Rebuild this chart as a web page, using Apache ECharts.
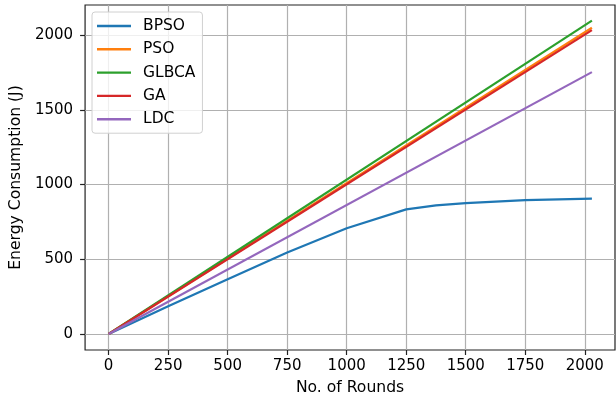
<!DOCTYPE html>
<html>
<head>
<meta charset="utf-8">
<script src="https://cdn.jsdelivr.net/npm/echarts@6/dist/echarts.min.js"></script>
<style>html,body{margin:0;padding:0;background:#fff;}#c{width:616px;height:401px;}</style>
</head>
<body>
<div id="c"></div>
<script>
const seriesNames = ['BPSO', 'PSO', 'GLBCA', 'GA', 'LDC'];
const colors = ['#1f77b4', '#ff7f0e', '#2ca02c', '#d62728', '#9467bd'];
const bpsoRounds = [0, 250, 500, 750, 1000, 1250, 1375, 1500, 1750, 2030];
const bpsoValues = [0, 185, 367, 545, 707, 834, 860, 876, 896, 906];
const lineRounds = [0, 2030];
const psoValues = [0, 2049];
const glbcaValues = [0, 2096];
const gaValues = [0, 2033];
const ldcValues = [0, 1752];
const xTicks = [0, 250, 500, 750, 1000, 1250, 1500, 1750, 2000];
const yTicks = [0, 500, 1000, 1500, 2000];

const pair = (xs, ys) => xs.map((x, i) => [x, ys[i]]);
const seriesData = [
  pair(bpsoRounds, bpsoValues),
  pair(lineRounds, psoValues),
  pair(lineRounds, glbcaValues),
  pair(lineRounds, gaValues),
  pair(lineRounds, ldcValues)
];
const font = 'DejaVu Sans';
const fmt = v => String(v);
const chart = echarts.init(document.getElementById('c'), null, {renderer: 'canvas'});
chart.setOption({
  animation: false,
  backgroundColor: '#fff',
  textStyle: {fontFamily: font},
  grid: {left: 85, right: 1, top: 5, bottom: 51, show: true, borderColor: '#222', borderWidth: 1.2, backgroundColor: 'transparent'},
  legend: {
    left: 92, top: 12, orient: 'vertical',
    data: seriesNames,
    icon: 'rect',
    itemWidth: 34, itemHeight: 2.4, itemGap: 7.3,
    padding: [6, 7, 6, 5],
    backgroundColor: 'rgba(255,255,255,0.8)',
    borderColor: '#d0d0d0', borderWidth: 1, borderRadius: 3,
    textStyle: {fontFamily: font, fontSize: 15.5, color: '#000', lineHeight: 14.8, padding: [0, 0, 0, 7]}
  },
  xAxis: {
    type: 'value', min: -99, max: 2127,
    name: 'No. of Rounds', nameLocation: 'middle', nameGap: 30,
    nameTextStyle: {fontFamily: font, fontSize: 15.6, color: '#000'},
    axisLine: {show: false, onZero: false},
    axisTick: {show: true, customValues: xTicks, length: 5, inside: false, lineStyle: {color: '#222', width: 1.2}},
    axisLabel: {customValues: xTicks, formatter: fmt, fontFamily: font, fontSize: 15, color: '#000', margin: 9},
    splitLine: {show: true, lineStyle: {color: '#b0b0b0', width: 1.2}}
  },
  yAxis: {
    type: 'value', min: -107, max: 2201,
    name: 'Energy Consumption (J)', nameLocation: 'middle', nameGap: 55, nameRotate: 90,
    nameTextStyle: {fontFamily: font, fontSize: 15.6, color: '#000'},
    axisLine: {show: false, onZero: false},
    axisTick: {show: true, customValues: yTicks, length: 5, inside: false, lineStyle: {color: '#222', width: 1.2}},
    axisLabel: {customValues: yTicks, formatter: fmt, fontFamily: font, fontSize: 15, color: '#000', margin: 12},
    splitLine: {show: true, lineStyle: {color: '#b0b0b0', width: 1.2}}
  },
  series: seriesNames.map((n, i) => ({
    name: n, type: 'line', data: seriesData[i], symbol: 'none', smooth: false,
    lineStyle: {color: colors[i], width: 2.2}, itemStyle: {color: colors[i]},
    z: 2 + i
  }))
});
</script>
</body>
</html>
